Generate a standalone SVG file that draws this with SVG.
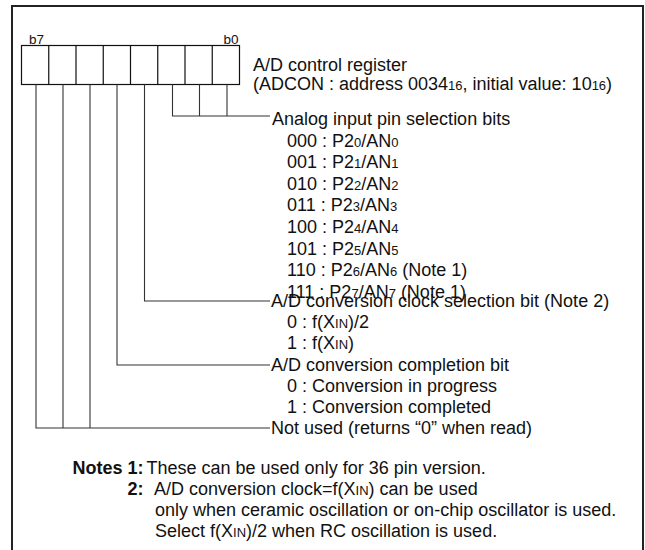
<svg xmlns="http://www.w3.org/2000/svg" width="645" height="550" viewBox="0 0 645 550">
  <style>
    text { font-family: "Liberation Sans", Arial, sans-serif; font-size: 18px; fill: #111; }
    .s { font-size: 13px; }
    .b { font-weight: bold; }
    .lbl { font-size: 13.5px; }
    .frame { fill: none; stroke: #222; stroke-width: 2; }
    .reg { fill: #fff; stroke: #111; stroke-width: 1.2; }
    .conn { fill: none; stroke: #333; stroke-width: 1.1; }
  </style>
  <rect width="645" height="550" fill="#fff"/>
  <path class="frame" d="M12,550 V6 H643 V550"/>

  <g id="register">
    <text class="lbl" x="29" y="44">b7</text>
    <text class="lbl" x="238.5" y="44" text-anchor="end">b0</text>
    <rect class="reg" x="21.5" y="45.5" width="218" height="39"/>
    <path class="reg" d="M48.75,45.5 V84.5 M76,45.5 V84.5 M103.25,45.5 V84.5 M130.5,45.5 V84.5 M157.75,45.5 V84.5 M185,45.5 V84.5 M212.25,45.5 V84.5"/>
    <text x="253" y="71">A/D control register</text>
    <text x="253" y="90">(ADCON : address 0034<tspan class="s">16</tspan>, initial value: 10<tspan class="s">16</tspan>)</text>
  </g>

  <g id="connectors">
    <path class="conn" d="M172.5,84.5 V116 H270 M199.5,84.5 V116 M227,84.5 V116"/>
    <path class="conn" d="M144.5,84.5 V301 H270"/>
    <path class="conn" d="M117,84.5 V365 H270"/>
    <path class="conn" d="M36,84.5 V428 H270 M63,84.5 V428 M90,84.5 V428"/>
  </g>

  <g id="analog-input">
    <text x="272" y="125">Analog input pin selection bits</text>
    <text x="287" y="146.5">000 : P2<tspan class="s">0</tspan>/AN<tspan class="s">0</tspan></text>
    <text x="287" y="168.1">001 : P2<tspan class="s">1</tspan>/AN<tspan class="s">1</tspan></text>
    <text x="287" y="189.7">010 : P2<tspan class="s">2</tspan>/AN<tspan class="s">2</tspan></text>
    <text x="287" y="211.3">011 : P2<tspan class="s">3</tspan>/AN<tspan class="s">3</tspan></text>
    <text x="287" y="232.9">100 : P2<tspan class="s">4</tspan>/AN<tspan class="s">4</tspan></text>
    <text x="287" y="254.5">101 : P2<tspan class="s">5</tspan>/AN<tspan class="s">5</tspan></text>
    <text x="287" y="276.1">110 : P2<tspan class="s">6</tspan>/AN<tspan class="s">6</tspan> (Note 1)</text>
    <text x="287" y="297.7">111 : P2<tspan class="s">7</tspan>/AN<tspan class="s">7</tspan> (Note 1)</text>
  </g>

  <g id="clock-select">
    <text x="271" y="306.5">A/D conversion clock selection bit (Note 2)</text>
    <text x="287" y="327.5">0 : f(X<tspan class="s">IN</tspan>)/2</text>
    <text x="287" y="348.5">1 : f(X<tspan class="s">IN</tspan>)</text>
  </g>

  <g id="completion">
    <text x="271" y="371">A/D conversion completion bit</text>
    <text x="287" y="392">0 : Conversion in progress</text>
    <text x="287" y="413">1 : Conversion completed</text>
  </g>

  <g id="not-used">
    <text x="271" y="434">Not used (returns “0” when read)</text>
  </g>

  <g id="notes">
    <text class="b" x="143.5" y="473.5" text-anchor="end">Notes 1:</text>
    <text x="146.5" y="473.5">These can be used only for 36 pin version.</text>
    <text class="b" x="143.5" y="494.5" text-anchor="end">2:</text>
    <text x="154" y="494.5">A/D conversion clock=f(X<tspan class="s">IN</tspan>) can be used</text>
    <text x="155" y="515.5">only when ceramic oscillation or on-chip oscillator is used.</text>
    <text x="155" y="536.5">Select f(X<tspan class="s">IN</tspan>)/2 when RC oscillation is used.</text>
  </g>
</svg>
